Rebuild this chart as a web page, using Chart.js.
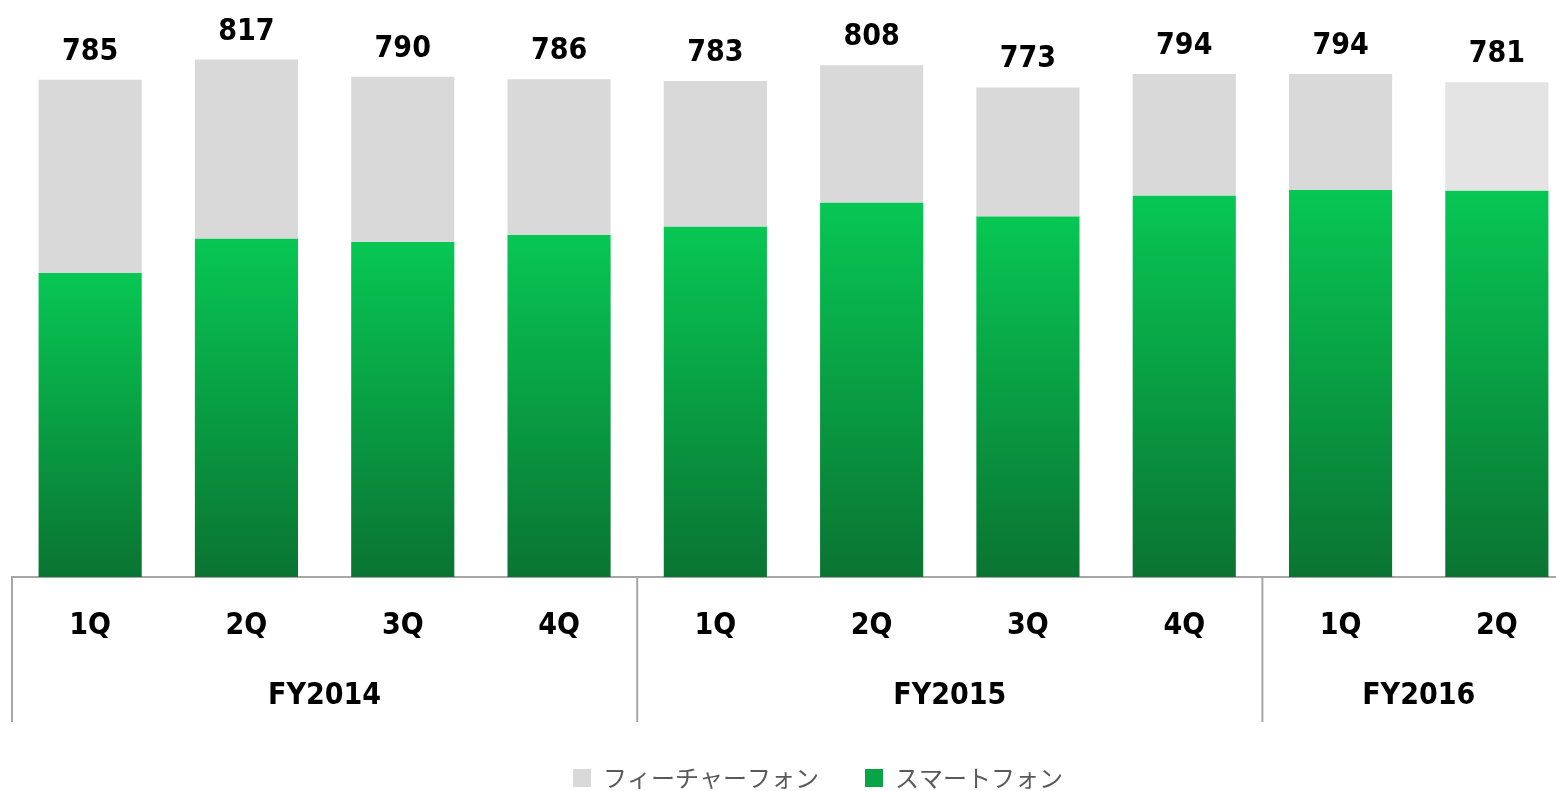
<!DOCTYPE html>
<html lang="ja">
<head>
<meta charset="utf-8">
<title>スマートフォン / フィーチャーフォン</title>
<script src="https://cdn.jsdelivr.net/npm/chart.js@4/dist/chart.umd.min.js"></script>
<style>
  html, body { margin: 0; padding: 0; background: #fff; overflow: hidden; }
  #wrap { width: 1624px; height: 791px; }
</style>
</head>
<body>
<div id="wrap"><canvas id="phoneChart" width="1624" height="791"></canvas></div>
<script>
// quarters and fiscal years on the x axis
var quarters = ['1Q', '2Q', '3Q', '4Q', '1Q', '2Q', '3Q', '4Q', '1Q', '2Q'];
var fiscalYears = ['FY2014', 'FY2015', 'FY2016'];
var quartersPerYear = [4, 4, 2];

// series values
var smartphone = [480, 534, 529, 540, 553, 591, 569, 602, 611, 610];
var featurePhone = [305, 283, 261, 246, 230, 217, 204, 192, 183, 171];

var labelFont = '"DejaVu Sans Condensed", "DejaVu Sans", sans-serif';
var lineGrey = '#a6a6a6';

function greenGradient(context) {
    var chart = context.chart;
    if (!chart.chartArea || context.type !== 'data') {
        return '#08a446';
    }
    var y = chart.scales.y;
    var top = y.getPixelForValue(context.parsed.y);
    var bottom = y.getPixelForValue(0);
    var g = chart.ctx.createLinearGradient(0, top, 0, bottom);
    g.addColorStop(0, '#07c754');
    g.addColorStop(1, '#0a7432');
    return g;
}

// totals above each stacked bar
var totalLabels = {
    id: 'totalLabels',
    afterDatasetsDraw: function(chart) {
        var ctx = chart.ctx;
        var topMeta = chart.getDatasetMeta(1);
        ctx.save();
        ctx.font = 'bold 30px ' + labelFont;
        ctx.fillStyle = '#000';
        ctx.textAlign = 'center';
        ctx.textBaseline = 'alphabetic';
        topMeta.data.forEach(function(bar, i) {
            var total = smartphone[i] + featurePhone[i];
            ctx.fillText(String(total), bar.x, bar.y - 20);
        });
        ctx.restore();
    }
};

// second row of the x axis: fiscal years and separators
var yearAxis = {
    id: 'yearAxis',
    afterDraw: function(chart) {
        var ctx = chart.ctx;
        var x = chart.scales.x;
        var area = chart.chartArea;
        var lineBottom = area.bottom + 145;
        ctx.save();
        ctx.strokeStyle = lineGrey;
        ctx.lineWidth = 2;
        ctx.font = 'bold 30px ' + labelFont;
        ctx.fillStyle = '#000';
        ctx.textAlign = 'center';
        ctx.textBaseline = 'middle';
        var start = 0;
        fiscalYears.forEach(function(fy, g) {
            var end = start + quartersPerYear[g] - 1;
            var left = start === 0 ? area.left
                : (x.getPixelForValue(start - 1) + x.getPixelForValue(start)) / 2;
            var right = end === quarters.length - 1 ? area.right
                : (x.getPixelForValue(end) + x.getPixelForValue(end + 1)) / 2;
            ctx.beginPath();
            ctx.moveTo(left, area.bottom);
            ctx.lineTo(left, lineBottom);
            ctx.stroke();
            ctx.fillText(fy, (left + right) / 2, area.bottom + 119);
            start = end + 1;
        });
        ctx.beginPath();
        ctx.moveTo(area.right, area.bottom);
        ctx.lineTo(area.right, lineBottom);
        ctx.stroke();
        ctx.restore();
    }
};

var ctx = document.getElementById('phoneChart').getContext('2d');
var chart = new Chart(ctx, {
    type: 'bar',
    data: {
        labels: quarters,
        datasets: [{
            label: 'スマートフォン',
            data: smartphone,
            backgroundColor: greenGradient,
            borderWidth: 0,
            barPercentage: 0.66,
            categoryPercentage: 1
        }, {
            label: 'フィーチャーフォン',
            data: featurePhone,
            backgroundColor: function(c) {
                return c.dataIndex === quarters.length - 1 ? '#e4e4e4' : '#d9d9d9';
            },
            borderWidth: 0,
            barPercentage: 0.66,
            categoryPercentage: 1
        }]
    },
    options: {
        responsive: false,
        animation: false,
        layout: {
            padding: { left: 12, right: 0, top: 0, bottom: -9 }
        },
        plugins: {
            legend: {
                position: 'bottom',
                reverse: true,
                labels: {
                    boxWidth: 18,
                    boxHeight: 18,
                    padding: 46,
                    color: '#595959',
                    font: { family: '"Noto Sans CJK JP", sans-serif', size: 24 },
                    generateLabels: function(chart) {
                        var items = Chart.defaults.plugins.legend.labels.generateLabels(chart);
                        items.forEach(function(item) {
                            item.fillStyle = item.datasetIndex === 0 ? '#08a446' : '#d9d9d9';
                            item.lineWidth = 0;
                            item.strokeStyle = 'rgba(0,0,0,0)';
                        });
                        return items;
                    }
                }
            },
            tooltip: { enabled: false }
        },
        scales: {
            x: {
                stacked: true,
                grid: { display: true, color: 'rgba(0,0,0,0)', drawTicks: false },
                border: { display: true, color: lineGrey, width: 2 },
                ticks: {
                    color: '#000',
                    padding: 31,
                    font: { family: labelFont, size: 30, weight: 'bold' },
                    maxRotation: 0
                },
                afterFit: function(scale) { scale.height = 143; }
            },
            y: {
                stacked: true,
                position: 'right',
                min: 0,
                max: 911,
                grid: { display: false },
                border: { display: false },
                ticks: { display: false },
                afterFit: function(scale) { scale.width = 49; }
            }
        }
    },
    plugins: [totalLabels, yearAxis]
});
</script>
</body>
</html>
